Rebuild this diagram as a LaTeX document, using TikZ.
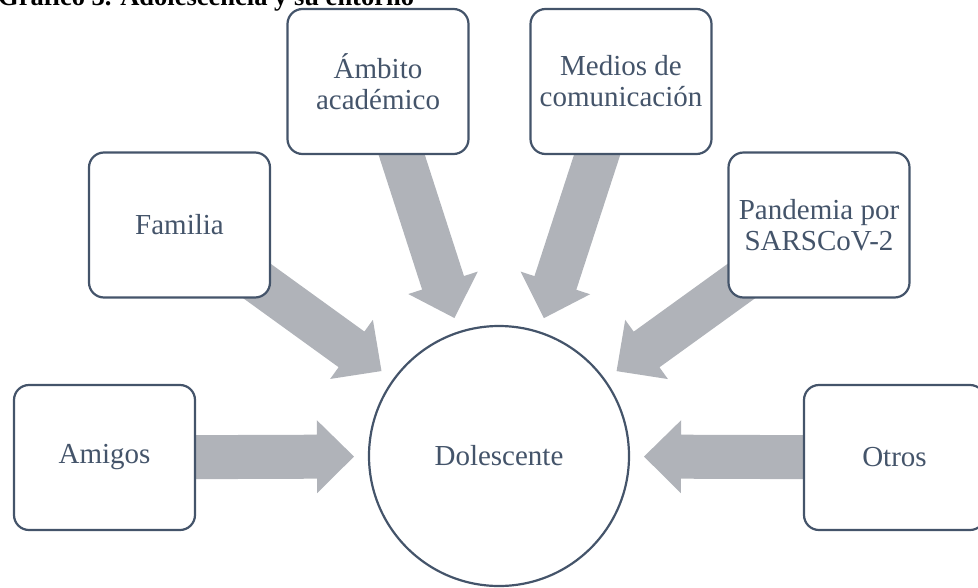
\documentclass[tikz,border=0pt]{standalone}
\usepackage{fontspec}
\setmainfont{Liberation Serif}
\usetikzlibrary{calc,backgrounds}
\definecolor{boxline}{HTML}{44546A}
\definecolor{arrowgray}{HTML}{B0B3B9}

% thick block arrow from a box towards the circle (tip stops short of it)
\newcommand\fatarrow[1]{%
	\fill[arrowgray] let \p1=(#1.center), \p2=($(dol.center)!145pt!(#1.center)$),
		\n1={atan2(\y2-\y1,\x2-\x1)}, \n2={veclen(\x2-\x1,\y2-\y1)}, \n3={\n2-37pt} in
		{[shift={(\p1)}, rotate=\n1]
		(0pt,-22pt) -- (\n3,-22pt) -- (\n3,-36.5pt) -- (\n2,0pt)
		-- (\n3,36.5pt) -- (\n3,22pt) -- (0pt,22pt) -- cycle};}

\begin{document}
\begin{tikzpicture}[x=1pt,y=-1pt,
	caja/.style={draw=boxline, line width=2.2pt, rounded corners=15pt, fill=white,
		minimum width=181pt, minimum height=145pt, inner sep=0pt, align=center,
		text=boxline, font=\fontsize{29}{31}\selectfont},
	centro/.style={circle, draw=boxline, line width=2.2pt, fill=white,
		minimum size=260pt, inner sep=0pt, text=boxline, font=\fontsize{29}{31}\selectfont}]
	\useasboundingbox (0,0) rectangle (978,587);
	\clip (0,0) rectangle (978,587);
	\node[anchor=base west, inner sep=0pt, font=\fontsize{26.5}{30}\selectfont\bfseries] (titulo) at (-2,5) {Gráfico 3. Adolescencia y su entorno};
	% boxes round the centre
	\node[caja] (amigos) at (104.5,457.5) {Amigos};
	\node[caja] (familia) at (179.5,225) {Familia};
	\node[caja] (ambito) at (378,81.5) {Ámbito\\académico};
	\node[caja] (medios) at (621,81.5) {Medios de\\comunicación};
	\node[caja] (pandemia) at (819,225) {Pandemia por\\SARSCoV-2};
	\node[caja] (otros) at (894.5,457.5) {Otros};
	\node[centro] (dol) at (499,456) {Dolescente};
	% arrows behind the boxes
	\begin{scope}[on background layer]
		\fatarrow{amigos}
		\fatarrow{familia}
		\fatarrow{ambito}
		\fatarrow{medios}
		\fatarrow{pandemia}
		\fatarrow{otros}
	\end{scope}
\end{tikzpicture}
\end{document}
